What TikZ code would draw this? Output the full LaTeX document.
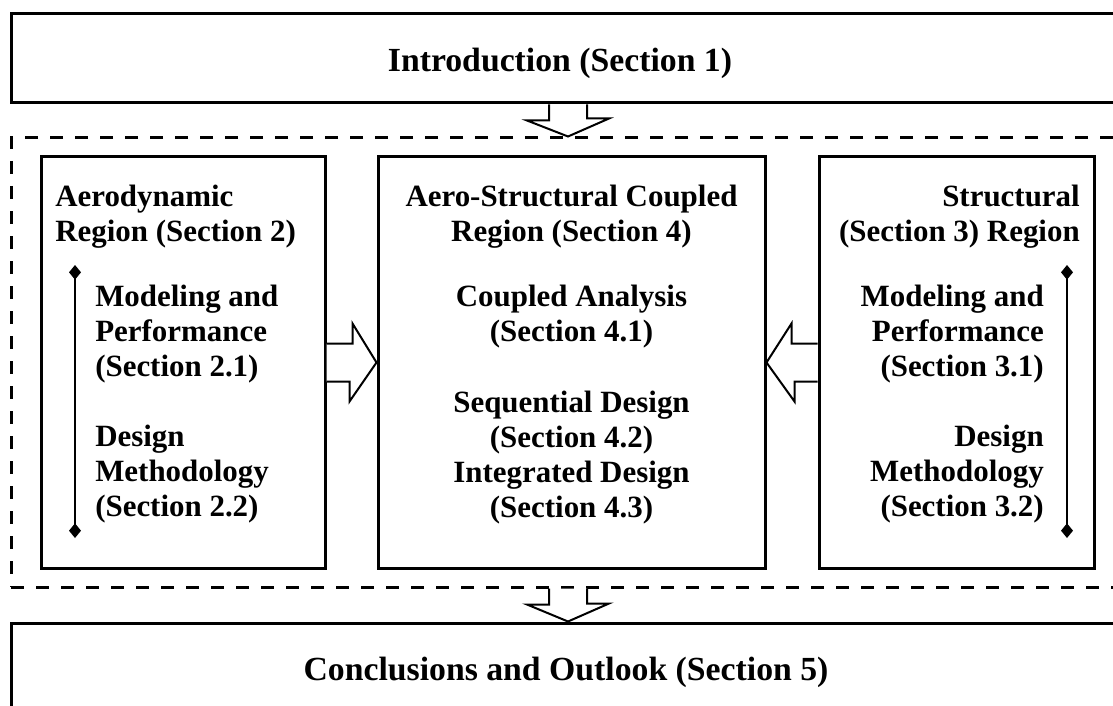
\documentclass[tikz,border=0pt]{standalone}
\usepackage{fontspec}
\setmainfont{Liberation Serif}
\usepackage{tikz}
\usetikzlibrary{arrows.meta,calc,positioning}

\tikzset{
  frame/.style={draw, line width=2.25pt, inner sep=0pt},
  region/.style={draw, line width=2.25pt, dash pattern=on 9.75pt off 9pt, inner sep=0pt},
  bigarrow/.style={draw, line width=1.5pt, fill=white, line join=miter},
  secline/.style={line width=1.8pt, {Turned Square[length=11pt,width=9pt]}-{Turned Square[length=11pt,width=9pt]}},
  title/.style={font=\fontsize{25.3}{30}\selectfont\bfseries, inner sep=0pt},
  label/.style={font=\fontsize{23.2}{26.25}\selectfont\bfseries, inner sep=0pt}
}

\begin{document}
\begin{tikzpicture}[x=0.75pt,y=-0.75pt]
\useasboundingbox (0,0) rectangle (1113,706);

% boxes
\node[frame, minimum width=835.5pt, minimum height=66.75pt] (intro) at (568,58.5) {};
\node[region, minimum width=835.5pt, minimum height=336.75pt] (region) at (568,362.5) {};
\node[frame, minimum width=213pt, minimum height=308.25pt] (aero) at (183,362.5) {};
\node[frame, minimum width=290.25pt, minimum height=308.25pt] (coupled) at (571.5,362.5) {};
\node[frame, minimum width=206.25pt, minimum height=308.25pt] (struct) at (956.5,362.5) {};
\node[frame, minimum width=835.5pt, minimum height=87.75pt] (concl) at (568,681.5) {};

% titles
\node[title, anchor=base] (introtext) at (560,72) {Introduction (Section 1)};
\node[title, anchor=base] (concltext) at (566,680) {Conclusions and Outlook (Section 5)};

% aerodynamic region (base = last line)
\node[label, anchor=base west, align=left] (aerohead) at (55,241) {Aerodynamic\\Region (Section 2)};
\node[label, anchor=base west, align=left] (aeromod) at (95,376) {Modeling and\\Performance\\(Section 2.1)};
\node[label, anchor=base west, align=left] (aerodes) at (95,516) {Design\\Methodology\\(Section 2.2)};
\coordinate (aerotop) at (75,265);
\coordinate (aerobot) at (75,538);
\draw[secline] (aerotop) -- (aerobot);

% coupled region
\node[label, anchor=base, align=center] (couphead) at (571.5,241) {Aero-Structural Coupled\\Region (Section 4)};
\node[label, anchor=base, align=center] (coupana) at (571.5,341) {Coupled Analysis\\(Section 4.1)};
\node[label, anchor=base, align=center] (coupseq) at (571.5,517) {Sequential Design\\(Section 4.2)\\Integrated Design\\(Section 4.3)};

% structural region
\node[label, anchor=base east, align=right] (structhead) at (1080,241) {Structural\\(Section 3) Region};
\node[label, anchor=base east, align=right] (structmod) at (1044,376) {Modeling and\\Performance\\(Section 3.1)};
\node[label, anchor=base east, align=right] (structdes) at (1044,516) {Design\\Methodology\\(Section 3.2)};
\coordinate (structtop) at (1067,265);
\coordinate (structbot) at (1067,538);
\draw[secline] (structtop) -- (structbot);

% block arrows
\draw[bigarrow] ($(intro.south)+(-19,0)$) -- ++(0,16) -- ++(-22,0) -- (region.north)
  -- ++(41,-18) -- ++(-22,0) -- ($(intro.south)+(19,0)$);
\draw[bigarrow] ($(region.south)+(-19,0)$) -- ++(0,16) -- ++(-22,0) -- (concl.north)
  -- ++(41,-18) -- ++(-22,0) -- ($(region.south)+(19,0)$);
\draw[bigarrow] ($(aero.east)+(0,-19)$) -- ++(26,0) -- ++(0,-20) -- (coupled.west)
  -- ++(-27,39) -- ++(0,-20) -- ($(aero.east)+(0,19)$);
\draw[bigarrow] ($(struct.west)+(0,-19)$) -- ++(-26,0) -- ++(0,-20) -- (coupled.east)
  -- ++(28,39) -- ++(0,-20) -- ($(struct.west)+(0,19)$);
\end{tikzpicture}
\end{document}
